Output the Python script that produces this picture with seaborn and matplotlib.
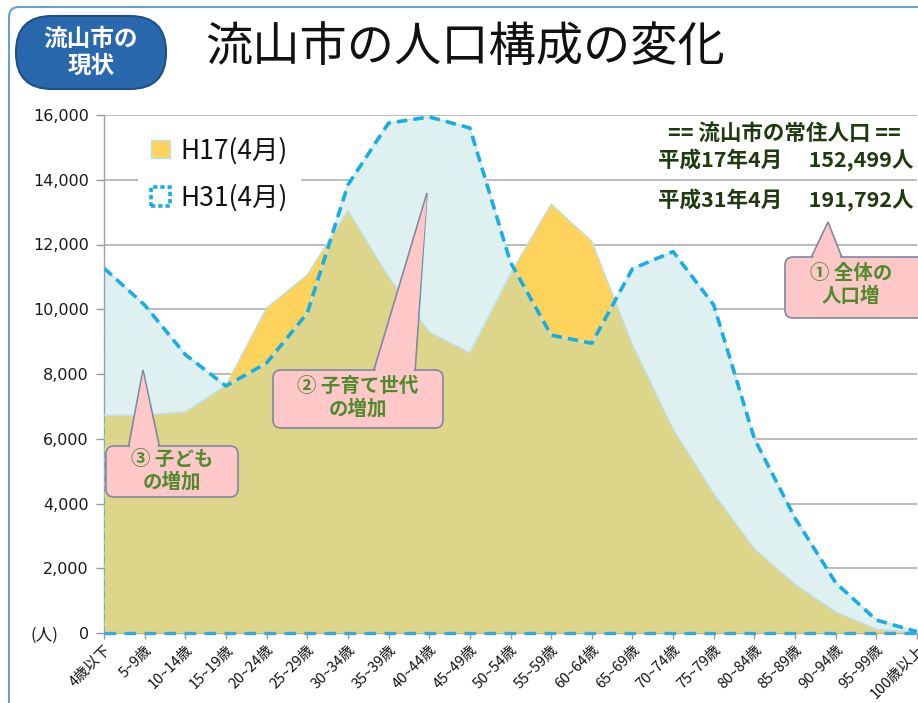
import numpy as np
import pandas as pd
import matplotlib
matplotlib.use("Agg")
import matplotlib.pyplot as plt
import seaborn as sns
from matplotlib.patches import FancyBboxPatch, Polygon, Patch
from matplotlib.transforms import Affine2D

# ---------------- data ----------------
age_groups = ['4歳以下', '5~9歳', '10~14歳', '15~19歳', '20~24歳', '25~29歳',
              '30~34歳', '35~39歳', '40~44歳', '45~49歳', '50~54歳', '55~59歳',
              '60~64歳', '65~69歳', '70~74歳', '75~79歳', '80~84歳', '85~89歳',
              '90~94歳', '95~99歳', '100歳以上']
h17 = [6730, 6730, 6830, 7650, 10040, 11060, 13050, 11000, 9300, 8650, 11100,
       13250, 12100, 8900, 6300, 4300, 2600, 1500, 650, 120, 15]
h31 = [11270, 10130, 8600, 7630, 8340, 9880, 13840, 15750, 15940, 15600, 11450,
       9200, 8950, 11250, 11780, 10130, 6000, 3550, 1550, 400, 40]
series_labels = ['H17(4月)', 'H31(4月)']
y_ticks = [0, 2000, 4000, 6000, 8000, 10000, 12000, 14000, 16000]
title = '流山市の人口構成の変化'
badge = '流山市の\n現状'
summary = ['== 流山市の常住人口 ==', '平成17年4月　 152,499人', '平成31年4月　 191,792人']
callouts = ['① 全体の\n人口増', '② 子育て世代\nの増加', '③ 子ども\nの増加']

df = pd.DataFrame({'age': age_groups, 'H17': h17, 'H31': h31})
df['pos'] = np.arange(len(df))

# ---------------- style ----------------
sns.set_theme(style='white')
plt.rcParams['font.family'] = ['Noto Sans CJK JP', 'DejaVu Sans']

W, H = 918, 703
fig = plt.figure(figsize=(W / 100, H / 100), dpi=100)
fig.patch.set_facecolor('white')
px = Affine2D().scale(1, -1).translate(0, H)  # pixel coords from top-left

ax = fig.add_axes([104 / W, 1 - 633 / H, (917 - 104) / W, (633 - 115) / H])
ax.set_facecolor('none')

YELLOW = '#fdd35c'
KHAKI = '#ddd58a'
CYAN = '#dff0f0'
BLUE = '#19ade6'
x = df['pos'].values
a17 = df['H17'].values
a31 = df['H31'].values

ax.fill_between(x, 0, a31, color=CYAN, lw=0, zorder=2)
ax.fill_between(x, 0, a17, color=KHAKI, lw=0, zorder=3)
ax.fill_between(x, a31, a17, where=a17 > a31, interpolate=True, color=YELLOW, lw=0, zorder=4)
ax.plot(x, a17, color='#bfe0e6', lw=1.0, zorder=4.5)
ax.plot(x, a31, color='#c8e6ea', lw=1.0, zorder=4.5)

dash = (0, (2.9, 1.7))
sns.lineplot(data=df, x='pos', y='H31', ax=ax, color=BLUE, lw=2.6,
             linestyle=dash, zorder=6, legend=False)
ax.plot([x[0], x[0]], [0, a31[0]], color='#5aaed8', lw=1.2, linestyle=(0, (4, 3)), zorder=6)
ax.plot([x[0], x[-1]], [0, 0], color='#3aa8dc', lw=2.4, linestyle=(0, (3.5, 2.5)),
        zorder=6, clip_on=False)

ax.set_xlim(x[0], x[-1])
ax.set_ylim(0, 16000)
ax.set_yticks(y_ticks)
ax.set_yticklabels([f'{v:,}' for v in y_ticks], family=['DejaVu Sans'], fontsize=11.5,
                   color='#1a1a1a')
ax.set_xticks(x)
ax.set_xticklabels(df['age'], rotation=45, ha='right', rotation_mode='anchor',
                   fontsize=10.5, color='#111111')
ax.tick_params(axis='y', length=6, width=1, color='#999999', pad=5, left=True)
ax.tick_params(axis='x', length=4, width=1, color='#999999', pad=3, bottom=True)
ax.set_xlabel('')
ax.set_ylabel('')
ax.grid(axis='y', color='#a8a8a8', lw=1.1, zorder=1)
ax.grid(axis='x', visible=False)
ax.set_axisbelow(True)
for s in ['top', 'right']:
    ax.spines[s].set_visible(False)
for s in ['left', 'bottom']:
    ax.spines[s].set_color('#a0a0a0')
    ax.spines[s].set_linewidth(1.0)

fig.text(30 / W, 1 - 635 / H, '(人)', fontsize=12, color='#1a1a1a', va='center', ha='left')

# legend
handles = [Patch(facecolor=YELLOW, edgecolor='#bfe0e6', lw=1),
           Patch(facecolor='white', edgecolor=BLUE, lw=2.6, linestyle=(0, (1.2, 0.8)))]
leg = ax.legend(handles, series_labels, loc='upper left',
                bbox_to_anchor=(138 / W, 1 - 124 / H), bbox_transform=fig.transFigure,
                fontsize=19, frameon=True, handlelength=0.7, handleheight=0.7,
                labelspacing=0.75, handletextpad=0.4, borderpad=0.5, borderaxespad=0)
leg.get_frame().set_facecolor('white')
leg.get_frame().set_edgecolor('none')
leg.get_frame().set_alpha(1)
leg.set_zorder(10)
for t in leg.get_texts():
    t.set_color('#111111')

# frame & badge & title
fig.add_artist(FancyBboxPatch((9, 7), 1000, 800, boxstyle='round,pad=0,rounding_size=10',
                              transform=px, facecolor='none', edgecolor='#6a9fd8', lw=1.5))
fig.add_artist(FancyBboxPatch((16, 16), 150, 73, boxstyle='round,pad=0,rounding_size=36',
                              transform=px, facecolor='#2a68ad', edgecolor='#1d4f88', lw=1.5))
fig.text(91 / W, 1 - 52 / H, badge, color='white', fontsize=17, fontweight='bold',
         ha='center', va='center', linespacing=1.15)
fig.text(205 / W, 1 - 48 / H, title, fontsize=34, color='#111111', ha='left', va='center')

# summary text
GREEN_DARK = '#1f3a0f'
fig.text(784 / W, 1 - 133 / H, summary[0], fontsize=15.5, fontweight='bold',
         color=GREEN_DARK, ha='center', va='center')
fig.text(913 / W, 1 - 160 / H, summary[1], fontsize=15.5, fontweight='bold',
         color=GREEN_DARK, ha='right', va='center')
fig.text(913 / W, 1 - 201 / H, summary[2], fontsize=15.5, fontweight='bold',
         color=GREEN_DARK, ha='right', va='center')

# callouts
PINK = '#ffc8c8'
EDGE = '#7d88a6'
TEXTG = '#4f8a2b'


def callout(box, base, tip, text, tcenter):
    bx, by, bw, bh = box
    fig.add_artist(Polygon([(base[0], by + 3), tip, (base[1], by + 3)], closed=True,
                           transform=px, facecolor=PINK, edgecolor=EDGE, lw=1.2, zorder=20))
    fig.add_artist(FancyBboxPatch((bx, by), bw, bh, boxstyle='round,pad=0,rounding_size=8',
                                  transform=px, facecolor=PINK, edgecolor=EDGE, lw=1.2,
                                  zorder=21))
    fig.add_artist(Polygon([(base[0] + 1.5, by + 4), (tip[0], tip[1] + 3), (base[1] - 1.5, by + 4)],
                           closed=True, transform=px, facecolor=PINK, edgecolor='none',
                           zorder=22))
    fig.text(tcenter[0] / W, 1 - tcenter[1] / H, text, fontsize=14, fontweight='bold',
             color=TEXTG, ha='center', va='center', linespacing=1.2, zorder=23)


callout((785, 257, 150, 61), (810, 843), (828, 222), callouts[0], (851, 285))
callout((273, 370, 170, 58), (373, 415), (427, 193), callouts[1], (358, 398))
callout((106, 446, 132, 51), (128, 160), (143, 370), callouts[2], (172, 471))

fig.savefig('out.png', dpi=100)
